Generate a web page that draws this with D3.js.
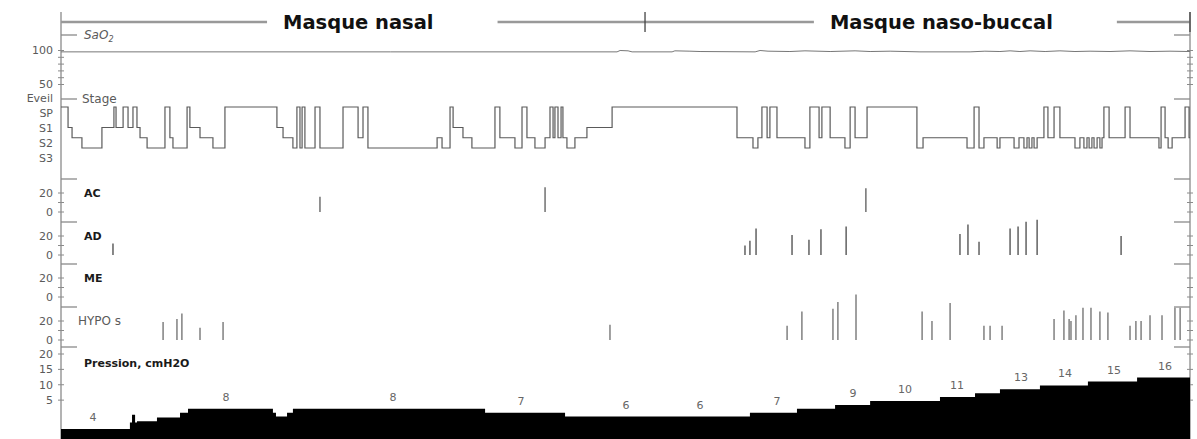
<!DOCTYPE html>
<html><head><meta charset="utf-8">
<script src="https://cdn.jsdelivr.net/npm/d3@7"></script>
<style>body{margin:0;background:#fff}svg{display:block}</style>
</head><body><svg id="c" width="1197" height="439"></svg>
<script>
// ---------------- DATA ----------------
const timeDomain = [0, 480];               // minutes of recording
const maskNames = ["Masque nasal", "Masque naso-buccal"];
const maskStarts = [0, 248.3];             // minutes
const maskLabelT = [94.4, 326.9];          // label start (minutes)
const stageNames = ["Eveil", "SP", "S1", "S2", "S3"];
// hypnogram: [minute, level index] (0 = top trace level)
const stage = [[0,0],[3.0,2],[4.7,3],[8.9,4],[17.4,2],[22.5,0],[23.4,2],[26.4,0],[28.5,2],[30.6,0],[32.3,2],[33.6,3],[36.6,4],[44.2,0],[46.3,3],[47.6,4],[53.6,0],[54.8,2],[59.1,3],[64.6,4],[69.7,0],[91.8,2],[94.4,3],[98.6,4],[100.3,0],[101.6,4],[102.5,0],[103.7,4],[108.0,0],[110.1,4],[119.9,0],[126.3,3],[128.4,0],[130.5,4],
[159.9,3],[162.0,4],[165.4,0],[166.7,2],[170.9,3],[174.7,4],[184.5,0],[186.6,3],[193.0,4],[196.0,0],[198.1,3],[201.5,4],[205.8,3],[207.9,0],[209.2,3],[210.0,0],[211.3,3],[212.6,0],[213.4,3],[215.1,4],[218.5,3],[223.6,2],[234.3,0],[287.4,3],[294.2,4],[296.3,3],[298.0,0],[300.2,3],[301.4,0],[304.4,3],
[316.3,4],[318.4,0],[322.3,3],[323.5,0],[327.0,3],[333.3,4],[335.5,0],[337.6,3],[342.7,0],[363.9,4],[366.5,3],[385.2,4],[388.2,0],[390.3,4],[392.4,3],[398.0,4],[399.2,3],[405.2,4],[407.3,3],[409.4,4],[410.7,3],[411.6,4],[412.8,3],[413.7,4],[415.0,3],[417.9,0],[419.6,3],[422.2,0],[424.7,3],[431.1,4],[433.2,3],[434.9,4],[436.2,3],[437.1,4],[438.3,3],[439.2,4],[440.5,3],[441.7,4],[442.6,3],[443.4,0],[445.6,3],[452.4,0],[454.5,3],[466.8,4],[467.7,0],[469.4,3],[470.7,4],[472.4,3],[477.9,0],[479.6,3]];
// SaO2 (%)
const sao2 = [[0,98],[140,98],[236.4,98],[237.7,100],[241.1,99.5],[242.8,98],[259.8,98],[261,99.5],[267.4,99],[271.7,98.5],[295.1,98],[297.2,100],[300.6,99],[309.9,98.5],[316.3,99.5],[327,98.5],[337.6,99.5],[344,98.5],[352.5,99],[365.2,98],[386.5,98],[392.8,99],[399.2,98.5],[403.5,99.5],[407.7,98.5],[412,99.5],[418.4,98.5],[424.7,99.5],[431.1,98.5],[437.5,99],[446,98.5],[454.5,99.5],[463,98.5],[471.5,99],[480,98.5]];
// events: [minute, duration s]
const acEvents = [[110.1,16],[205.8,26],[342.2,25]];
const adEvents = [[22.1,12],[290.8,10],[292.9,15],[295.5,28],[310.8,21],[318.0,16],[323.1,27],[333.8,30],[382.2,22],[385.6,32],[390.3,14],[403.5,28],[406.9,30],[410.3,35],[415.0,37],[450.7,20]];
const meEvents = [];
const hypoEvents = [[43.4,19],[49.3,22],[51.4,28],[59.1,13],[68.9,19],[233.4,16],[308.7,15],[315.0,30],[328.2,33],[330.3,40],[338.0,48],[366.1,30],[370.3,20],[378.0,39],[392.4,15],[395.0,15],[400.1,15],[422.2,22],[426.4,31],[428.6,22],[429.4,20],[431.5,26],[434.5,34],[437.9,34],[441.7,30],[445.1,29],[454.5,15],[457.0,20],[459.2,20],[463.0,26],[468.1,26],[473.6,34],[475.8,34]];
// CPAP pressure (cmH2O)
const pressure = [[0,2.8],[29.3,4.5],[30.2,6.5],[31.5,4.5],[32.3,4.8],[40.8,5.8],[50.6,7],[54.0,8],[90.1,7],[91.4,6],[96.1,7],[98.6,8],[180.3,7],[214.3,6],[292.9,7],[312.9,8],[329.1,9],[344.0,10],[373.7,11],[388.6,12],[399.2,13],[416.2,14],[436.6,15],[457.5,16],[480,16]];
const pressureLabels = [[13.6,"4"],[70.2,"8"],[141.2,"8"],[195.6,"7"],[240.2,"6"],[271.7,"6"],[304.4,"7"],[336.7,"9"],[358.8,"10"],[380.9,"11"],[408.2,"13"],[426.9,"14"],[447.7,"15"],[469.4,"16"]];
const eventTicks = [0, 20];
const sao2Ticks = [50, 100];
const pressureTicks = [5, 10, 15, 20];

// ---------------- LAYOUT ----------------
const svg = d3.select("#c");
const L = 61, R = 1190, B = 439;
const x = d3.scaleLinear().domain(timeDomain).range([L, R]);
const axisCol = "#8a8a8a", labCol = "#5a5a5a";
const F = "DejaVu Sans, Arial, sans-serif";

// panel separators (long ticks)
const seps = {sao2:35, stage:99, ac:179, ad:222, me:264, hypo:307, pres:347};

// axes
svg.append("line").attr("x1",L).attr("x2",L).attr("y1",12).attr("y2",B).attr("stroke",axisCol).attr("stroke-width",1.3);
svg.append("line").attr("x1",R).attr("x2",R).attr("y1",12).attr("y2",B).attr("stroke",axisCol).attr("stroke-width",1.3);

Object.values(seps).forEach(y=>{
  svg.append("line").attr("x1",L).attr("x2",L+16).attr("y1",y).attr("y2",y).attr("stroke",axisCol).attr("stroke-width",1.3);
  svg.append("line").attr("x1",R-16).attr("x2",R).attr("y1",y).attr("y2",y).attr("stroke",axisCol).attr("stroke-width",1.3);
});
function minorTicks(scale, vals){
  vals.forEach(v=>{
    const y = scale(v);
    svg.append("line").attr("x1",L-3).attr("x2",L+3).attr("y1",y).attr("y2",y).attr("stroke",axisCol);
    svg.append("line").attr("x1",R-3).attr("x2",R+3).attr("y1",y).attr("y2",y).attr("stroke",axisCol);
  });
}
function tickLabels(scale, vals, fmt){
  vals.forEach(v=>{
    svg.append("text").attr("x",53).attr("y",scale(v)).attr("dy","0.36em").attr("text-anchor","end")
      .attr("font-family",F).attr("font-size",11).attr("fill",labCol).text(fmt?fmt(v):v);
  });
}
function panelLabel(txt, y, bold, xx){
  return svg.append("text").attr("x",xx||84).attr("y",y).attr("dy","0.36em")
    .attr("font-family",F).attr("font-size",bold?11:12).attr("font-weight",bold?"bold":"normal")
    .attr("fill",bold?"#1a1a1a":labCol).text(txt);
}

// ---- header (mask periods) ----
const hdrY = 22;
const maskEnds = maskStarts.slice(1).concat([timeDomain[1]]);
maskNames.forEach((n,i)=>{
  const t = svg.append("text").attr("x",x(maskLabelT[i])).attr("y",hdrY).attr("dy","0.36em")
    .attr("font-family",F).attr("font-size",19.5).attr("font-weight","bold").attr("fill","#111").text(n);
  const w = t.node().getComputedTextLength();
  const x0 = x(maskStarts[i]), x1 = x(maskEnds[i]), ts = x(maskLabelT[i]);
  svg.append("line").attr("x1",x0).attr("x2",ts-16).attr("y1",hdrY).attr("y2",hdrY).attr("stroke","#999").attr("stroke-width",2.6);
  svg.append("line").attr("x1",ts+w+64).attr("x2",x1).attr("y1",hdrY).attr("y2",hdrY).attr("stroke","#999").attr("stroke-width",2.6);
});
svg.append("line").attr("x1",x(maskStarts[1])).attr("x2",x(maskStarts[1])).attr("y1",12).attr("y2",32).attr("stroke","#444").attr("stroke-width",1.3);
svg.append("line").attr("x1",R).attr("x2",R).attr("y1",12).attr("y2",32).attr("stroke","#444").attr("stroke-width",1.3);

// ---- SaO2 ----
const ySa = d3.scaleLinear().domain([50,100]).range([84.5,50.5]);
minorTicks(ySa,[50,60,70,80,90,100]);
tickLabels(ySa, sao2Ticks);
const sa = panelLabel("", seps.sao2, false, 84).attr("font-style","italic");
sa.append("tspan").text("SaO");
sa.append("tspan").attr("font-size",8).attr("dy","0.35em").text("2");
svg.append("path").datum(sao2).attr("fill","none").attr("stroke","#777").attr("stroke-width",1)
  .attr("d", d3.line().x(d=>x(d[0])).y(d=>ySa(d[1])));

// ---- Stage ----
const yStage = d3.scalePoint().domain(d3.range(stageNames.length)).range([107,148]);
const yStageLab = d3.scalePoint().domain(stageNames).range([98,158]);
panelLabel("Stage", seps.stage, false, 82);
stageNames.forEach(n=>{
  svg.append("text").attr("x",53).attr("y",yStageLab(n)).attr("dy","0.36em").attr("text-anchor","end")
    .attr("font-family",F).attr("font-size",11).attr("fill",labCol).text(n);
});
const stageData = stage.concat([[timeDomain[1], stage[stage.length-1][1]]]);
svg.append("path").datum(stageData).attr("fill","none").attr("stroke","#5a5a5a").attr("stroke-width",1.2)
  .attr("d", d3.line().curve(d3.curveStepAfter).x(d=>x(d[0])).y(d=>yStage(d[1])));

// ---- event panels ----
function eventPanel(name, top, events, bold, col){
  const y = d3.scaleLinear().domain([0,20]).range([top+33, top+14]);
  minorTicks(y,[0,10,20]);
  tickLabels(y, eventTicks);
  panelLabel(name, top+14, bold, bold?84:78);
  svg.append("g").selectAll("line").data(events).join("line")
    .attr("x1",d=>x(d[0])).attr("x2",d=>x(d[0]))
    .attr("y1",y(0)).attr("y2",d=>y(d[1]))
    .attr("stroke",col).attr("stroke-width",1.4);
}
eventPanel("AC", seps.ac, acEvents, true, "#666");
eventPanel("AD", seps.ad, adEvents, true, "#555");
eventPanel("ME", seps.me, meEvents, true, "#555");
eventPanel("HYPO s", seps.hypo, hypoEvents, false, "#777");

// ---- Pressure ----
const yP = d3.scaleLinear().domain([0,20]).range([440,362]);        // trace
const yPAxis = d3.scaleLinear().domain([0,20]).range([415.5,354]);  // printed axis
minorTicks(yPAxis, pressureTicks);
tickLabels(yPAxis, pressureTicks);
panelLabel("Pression, cmH2O", 363, true, 84);
svg.append("path").datum(pressure).attr("fill","#000")
  .attr("d", d3.area().curve(d3.curveStepAfter).x(d=>x(d[0])).y0(B).y1(d=>yP(d[1])));
const pMap = d3.scaleThreshold().domain(pressure.map(d=>d[0]).slice(1)).range(pressure.map(d=>d[1]));
svg.append("g").selectAll("text").data(pressureLabels).join("text")
  .attr("x",d=>x(d[0])).attr("y",d=>yP(pMap(d[0]))-8).attr("text-anchor","middle")
  .attr("font-family",F).attr("font-size",11).attr("fill","#666").text(d=>d[1]);
</script></body></html>
